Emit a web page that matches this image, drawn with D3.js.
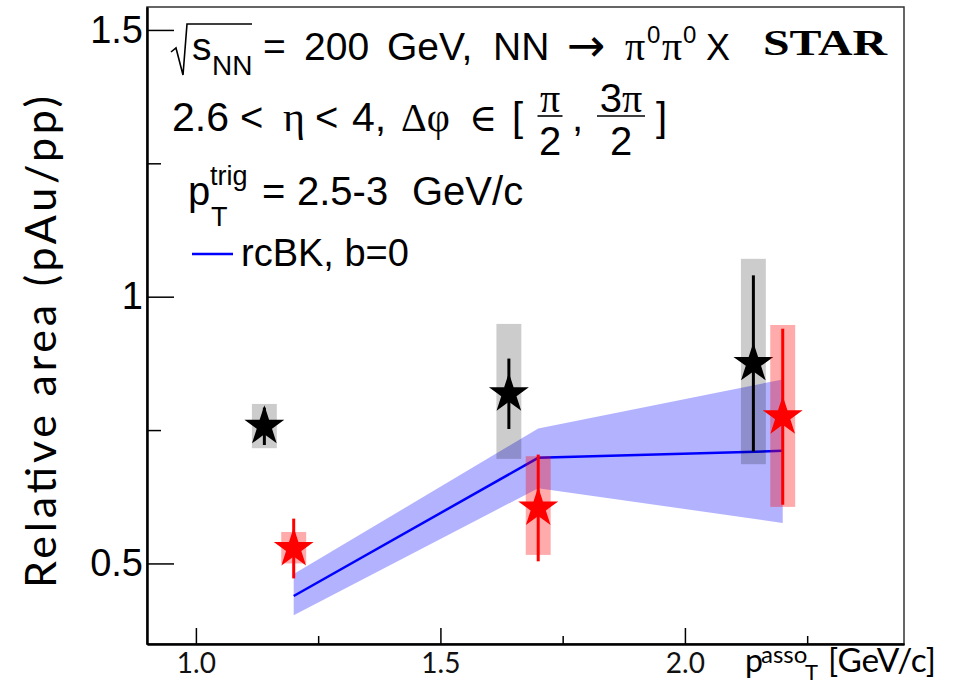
<!DOCTYPE html>
<html>
<head>
<meta charset="utf-8">
<script src="https://cdn.jsdelivr.net/npm/d3@7"></script>
<style>
  html, body { margin: 0; padding: 0; background: #fff; }
  svg { display: block; }
  text { font-family: "Liberation Sans", Arial, sans-serif; fill: #000; }
  .greek { font-family: "Liberation Serif", "DejaVu Serif", serif; }
</style>
</head>
<body>
<svg id="chart" width="957" height="685"></svg>
<script>
// data
const blackX = [1.14, 1.64, 2.14];
const blackY = [0.757, 0.818, 0.875];
const blackStat = [0.035, 0.066, 0.165];
const blackSysLo = [0.716, 0.696, 0.686];
const blackSysHi = [0.799, 0.949, 1.071];

const redX = [1.2, 1.7, 2.2];
const redY = [0.528, 0.604, 0.775];
const redStat = [0.056, 0.1, 0.165];
const redSysLo = [0.500, 0.516, 0.606];
const redSysHi = [0.559, 0.701, 0.947];

const rcbkX = [1.2, 1.7, 2.2];
const rcbkY = [0.439, 0.698, 0.711];
const rcbkLo = [0.403, 0.641, 0.576];
const rcbkHi = [0.480, 0.753, 0.845];

const xMajor = [1.0, 1.5, 2.0];
const xMinor = [1.25, 1.75, 2.25];
const yMajor = [0.5, 1, 1.5];
const yMinor = [0.75, 1.25];
const yLabels = ['0.5', '1', '1.5'];

const svg = d3.select('#chart');
const frameL = 147, frameR = 904, frameT = 7, frameB = 644;

const x = d3.scaleLinear().domain([0.9, 2.448]).range([frameL, frameR]);
const y = d3.scaleLinear().domain([0.349, 1.543]).range([frameB, frameT]);

// frame
svg.append('rect')
    .attr('x', frameL).attr('y', frameT)
    .attr('width', frameR - frameL).attr('height', frameB - frameT)
    .attr('fill', 'none').attr('stroke', '#333').attr('stroke-width', 1.5);

// theory band + line
const bandData = rcbkX.map((d, i) => ({x: d, lo: rcbkLo[i], hi: rcbkHi[i], y: rcbkY[i]}));
svg.append('path')
    .datum(bandData)
    .attr('d', d3.area().x(d => x(d.x)).y0(d => y(d.lo)).y1(d => y(d.hi)))
    .attr('fill', 'blue').attr('fill-opacity', 0.3);
svg.append('path')
    .datum(bandData)
    .attr('d', d3.line().x(d => x(d.x)).y(d => y(d.y)))
    .attr('fill', 'none').attr('stroke', '#0000ff').attr('stroke-width', 2.5);

function starPath(R) {
    const r = R * 0.382;
    let pts = [];
    for (let i = 0; i < 10; i++) {
        const a = (-90 + i * 36) * Math.PI / 180;
        const rad = i % 2 ? r : R;
        pts.push([rad * Math.cos(a), rad * Math.sin(a)]);
    }
    return 'M' + pts.map(p => p.join(',')).join('L') + 'Z';
}

function drawSeries(xs, ys, stat, lo, hi, col, boxOp) {
    const g = svg.append('g');
    const dw = 0.0255;
    g.selectAll('rect.sys')
        .data(xs)
        .join('rect')
        .attr('class', 'sys')
        .attr('x', d => x(d - dw))
        .attr('width', d => x(d + dw) - x(d - dw))
        .attr('y', (d, i) => y(hi[i]))
        .attr('height', (d, i) => y(lo[i]) - y(hi[i]))
        .attr('fill', col).attr('fill-opacity', boxOp);
    g.selectAll('line.stat')
        .data(xs)
        .join('line')
        .attr('class', 'stat')
        .attr('x1', d => x(d)).attr('x2', d => x(d))
        .attr('y1', (d, i) => y(ys[i] + stat[i]))
        .attr('y2', (d, i) => y(ys[i] - stat[i]))
        .attr('stroke', col).attr('stroke-width', 3);
    g.selectAll('path.star')
        .data(xs)
        .join('path')
        .attr('class', 'star')
        .attr('transform', (d, i) => `translate(${x(d)},${y(ys[i])})`)
        .attr('d', starPath(21))
        .attr('fill', col);
}

drawSeries(blackX, blackY, blackStat, blackSysLo, blackSysHi, '#000', 0.2);
drawSeries(redX, redY, redStat, redSysLo, redSysHi, '#ff0000', 0.33);

// axes
const yAxis = svg.append('g').attr('transform', `translate(${frameL},0)`)
    .call(d3.axisLeft(y).tickValues(yMajor).tickSizeInner(-27).tickSizeOuter(0)
        .tickPadding(4).tickFormat((d, i) => yLabels[i]));
yAxis.selectAll('text').style('font-size', '38px').style('font-family', '"Liberation Sans", Arial, sans-serif');
svg.append('g').attr('transform', `translate(${frameL},0)`)
    .call(d3.axisLeft(y).tickValues(yMinor).tickSizeInner(-14).tickSizeOuter(0).tickFormat(''));

const xAxis = svg.append('g').attr('transform', `translate(0,${frameB})`)
    .call(d3.axisBottom(x).tickValues(xMajor).tickSizeInner(-16).tickSizeOuter(0)
        .tickPadding(9.5).tickFormat(d3.format('.1f')));
xAxis.selectAll('text').style('font-size', '28px').style('font-family', 'Lato, sans-serif').style('fill', '#111');
svg.append('g').attr('transform', `translate(0,${frameB})`)
    .call(d3.axisBottom(x).tickValues(xMinor).tickSizeInner(-8).tickSizeOuter(0).tickFormat(''));

svg.selectAll('.domain').attr('stroke', '#000').attr('stroke-width', 2);
svg.selectAll('.tick line').attr('stroke', '#000').attr('stroke-width', 1.5);

// little helper for placed text pieces
function seg(px, py, str, size, cls, family) {
    const t = svg.append('text').attr('x', px).attr('y', py)
        .style('font-size', size + 'px').text(str);
    if (cls) t.attr('class', cls);
    if (family) t.style('font-family', family);
    return t;
}

// axis titles
svg.append('text')
    .attr('transform', 'translate(56,342) rotate(-90)')
    .attr('text-anchor', 'middle')
    .attr('textLength', 492).attr('lengthAdjust', 'spacing')
    .style('font-family', 'Lato, sans-serif')
    .style('font-size', '43px')
    .text('Relative area (pAu/pp)');

seg(745, 672, 'p', 32, null, 'Lato, sans-serif');
seg(761, 663, 'asso', 24, null, 'Lato, sans-serif');
seg(805, 680, 'T', 22, null, 'Lato, sans-serif');
seg(828, 672, '[GeV/c]', 32, null, 'Lato, sans-serif')
    .attr('textLength', 108).attr('lengthAdjust', 'spacingAndGlyphs');

// line 1
svg.append('path')
    .attr('d', 'M171,52 L176,48 L183,75 L187,24 L252,24')
    .attr('fill', 'none').attr('stroke', '#000').attr('stroke-width', 1.6);
seg(192, 60, 's', 39);
seg(212, 75, 'NN', 28);
seg(263, 60, '=', 39);
seg(304, 60, '200', 39);
seg(387, 60, 'GeV,', 39);
seg(493, 60, 'NN', 39);
seg(567, 61, '\u2192', 46, null, '"DejaVu Sans", sans-serif');
seg(625, 60, '\u03c0', 40, 'greek');
seg(647, 43, '0', 24);
seg(662, 60, '\u03c0', 40, 'greek');
seg(683, 43, '0', 24);
seg(706, 60, 'X', 36);

svg.append('text')
    .attr('x', 763).attr('y', 55)
    .attr('textLength', 124).attr('lengthAdjust', 'spacingAndGlyphs')
    .style('font-family', '"Liberation Serif", "Times New Roman", serif')
    .style('font-weight', 'bold').style('font-size', '35px')
    .text('STAR');

// line 2
seg(172, 131, '2.6', 41);
seg(240, 131, '<', 40);
seg(283, 131, '\u03b7', 42, 'greek');
seg(315, 131, '<', 40);
seg(352, 131, '4,', 41);
seg(401, 131, '\u0394\u03c6', 40, 'greek');
seg(469, 131, '\u2208', 38, 'greek');
seg(512, 131, '[', 40);

function frac(cx, num, w) {
    svg.append('text').attr('x', cx).attr('y', 112).attr('text-anchor', 'middle')
        .style('font-size', '40px')
        .call(s => {
            if (num.length > 1) s.append('tspan').text(num[0]);
            s.append('tspan').attr('class', 'greek').text('\u03c0');
        });
    svg.append('line').attr('x1', cx - w / 2).attr('x2', cx + w / 2)
        .attr('y1', 116).attr('y2', 116).attr('stroke', '#000').attr('stroke-width', 1.6);
    svg.append('text').attr('x', cx).attr('y', 155).attr('text-anchor', 'middle')
        .style('font-size', '40px').text('2');
}
frac(550, 'p', 25);
seg(572, 131, ',', 40);
frac(621, '3p', 48);
seg(656, 131, ']', 40);

// line 3
seg(188, 205, 'p', 40);
seg(210, 185, 'trig', 27);
seg(211, 226, 'T', 27);
seg(262, 205, '=', 40);
seg(297, 205, '2.5-3', 40);
seg(412, 205, 'GeV/c', 40);

// legend
svg.append('line')
    .attr('x1', 192).attr('x2', 233).attr('y1', 254).attr('y2', 254)
    .attr('stroke', '#0000ff').attr('stroke-width', 2.5);
seg(241, 266, 'rcBK, b=0', 38);
</script>
</body>
</html>
